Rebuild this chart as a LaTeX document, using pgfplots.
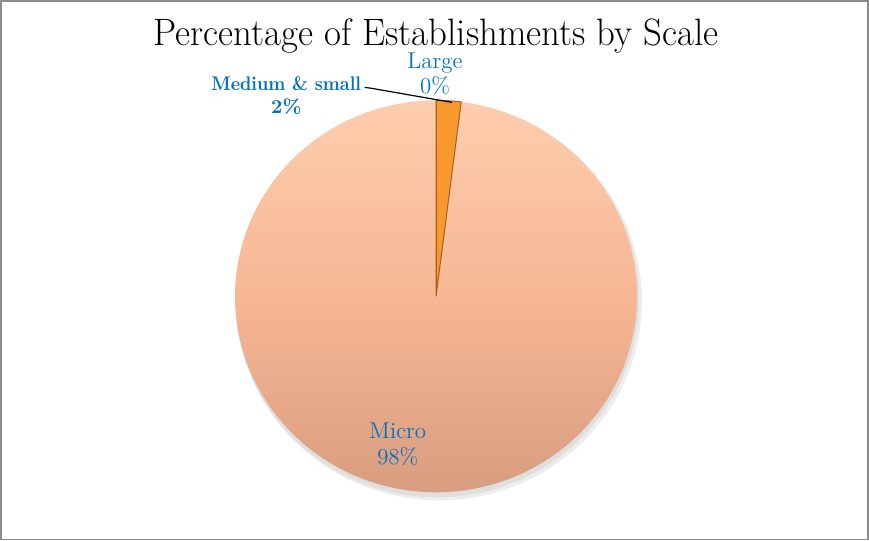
\documentclass[border=0pt]{standalone}
\usepackage{pgfplots}
\usepackage{pgfplotstable}
\pgfplotsset{compat=1.18}
\definecolor{labblue}{HTML}{0070C0}
\definecolor{peachtop}{HTML}{FDCDAE}
\definecolor{peachmid}{HTML}{F6B693}
\definecolor{peachbot}{HTML}{D79B7F}
\definecolor{orangeS}{HTML}{F7992E}
\definecolor{orangeD}{HTML}{A9601A}
\pgfplotstableread{
name value
Large 0
Medium 2
Micro 98
}\piedata
\pgfplotstablegetelem{0}{value}\of\piedata \let\vL\pgfplotsretval
\pgfplotstablegetelem{1}{value}\of\piedata \let\vM\pgfplotsretval
\pgfplotstablegetelem{2}{value}\of\piedata \let\vS\pgfplotsretval
\pgfmathsetmacro\aA{90-3.6*\vL}
\pgfmathsetmacro\aB{\aA-3.6*\vM}
\pgfmathsetmacro\aC{\aB-3.6*\vS}
\begin{document}
\begin{tikzpicture}
\begin{axis}[
  scale only axis, width=434.5pt, height=271.5pt,
  xmin=0, xmax=869, ymin=0, ymax=543,
  axis lines=none, clip=false]
% frame
\draw[black!45, line width=0.9pt] (axis cs:3,4) rectangle (axis cs:866,540);
% title
\node[font=\fontsize{19}{22}\selectfont, inner sep=1pt] at (axis cs:436,505) {\scalebox{0.965}[1]{Percentage of Establishments by Scale}};
% shadow
\fill[black, opacity=0.07] (axis cs:439,241) ellipse [x radius=101pt, y radius=99pt];
\fill[black, opacity=0.06] (axis cs:437,243) ellipse [x radius=100.5pt, y radius=98.5pt];
% Micro slice
\shade[top color=peachtop, bottom color=peachbot, middle color=peachmid]
  (axis cs:436,246) -- ++(\aB:100pt and 97.5pt)
  arc[start angle=\aB, end angle=\aC, x radius=100pt, y radius=97.5pt] -- cycle;
% Medium & small slice
\fill[orangeS, draw=orangeD, line width=0.5pt]
  (axis cs:436,246) -- ++(\aA:100pt and 97.5pt)
  arc[start angle=\aA, end angle=\aB, x radius=100pt, y radius=97.5pt] -- cycle;
% Large slice (zero)
\draw[orangeD, line width=0.4pt] (axis cs:436,246) -- ++(90:100pt and 97.5pt);
% leader line
\draw[black, line width=0.6pt] (axis cs:365,454) -- (axis cs:372,453) -- (axis cs:452,439);
% labels
\node[labblue, font=\bfseries\fontsize{9.8}{11.5}\selectfont, align=center, inner sep=1pt] at (axis cs:287,446) {\scalebox{0.9}[1]{Medium \& small}\\2\%};
\node[labblue, font=\fontsize{11.4}{12.4}\selectfont, align=center, inner sep=0.5pt] at (axis cs:435,467) {Large\\0\%};
\node[labblue, font=\fontsize{11.4}{13}\selectfont, align=center, inner sep=1pt] at (axis cs:398,99) {Micro\\98\%};
\end{axis}
\end{tikzpicture}
\end{document}
